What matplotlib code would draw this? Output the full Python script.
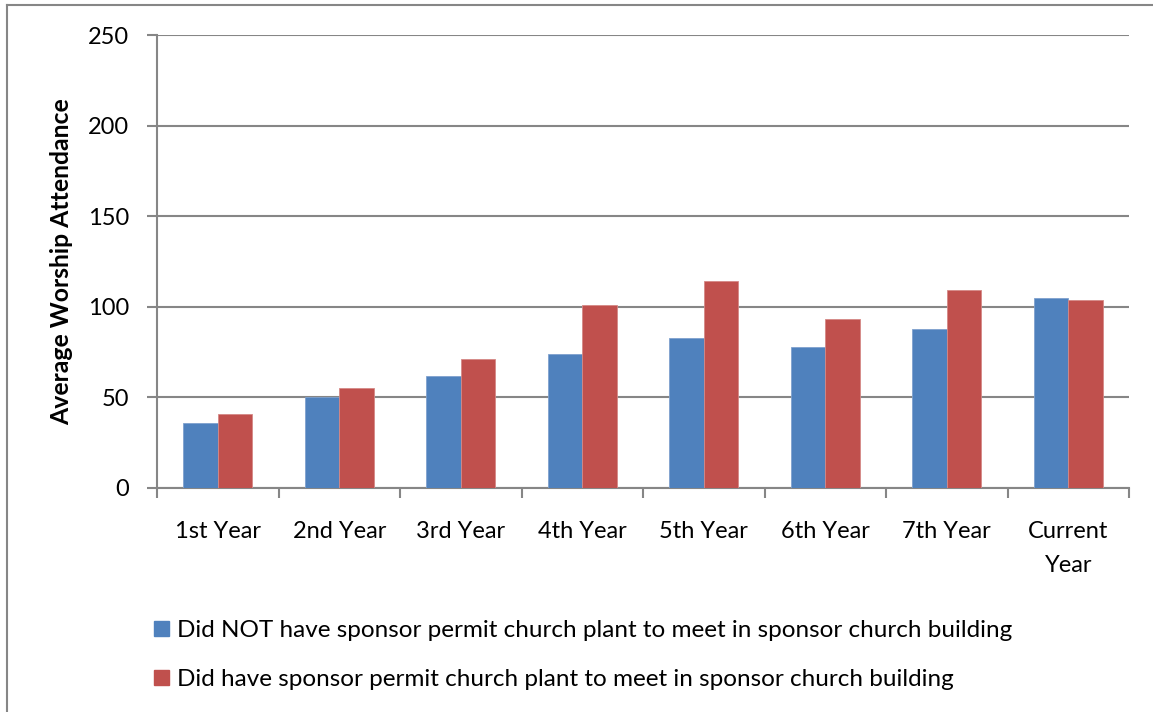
import matplotlib
matplotlib.use("Agg")
import matplotlib.pyplot as plt
import numpy as np
from matplotlib.patches import Patch
from matplotlib.lines import Line2D

plt.rcParams['font.family'] = ['Lato', 'DejaVu Sans']

categories = ["1st Year", "2nd Year", "3rd Year", "4th Year", "5th Year",
              "6th Year", "7th Year", "Current\nYear"]
not_in_sponsor = [36, 50, 62, 74, 83, 78, 88, 105]
in_sponsor = [41, 55, 71, 101, 114, 93, 109, 104]
series_labels = [
    "Did NOT have sponsor permit church plant to meet in sponsor church building",
    "Did have sponsor permit church plant to meet in sponsor church building",
]
y_ticks = [0, 50, 100, 150, 200, 250]

blue = "#4F81BD"
red = "#C0504D"
grey = "#868686"

W, H = 1153, 712
fig = plt.figure(figsize=(W / 100, H / 100), dpi=100)
ax = fig.add_axes([157 / W, 1 - 488 / H, (1129 - 157) / W, (488 - 35) / H])

x = np.arange(len(categories))
bw = 0.285
ax.bar(x - bw / 2, not_in_sponsor, bw, color=blue, edgecolor="#7FA1CE",
       linewidth=0.6, zorder=3)
ax.bar(x + bw / 2, in_sponsor, bw, color=red, edgecolor="#D58986",
       linewidth=0.6, zorder=3)

ax.set_xlim(-0.5, len(categories) - 0.5)
ax.set_ylim(0, 250)
ax.set_yticks(y_ticks)
ax.yaxis.grid(True, color=grey, linewidth=1.5, zorder=0)
ax.set_axisbelow(True)

ax.set_xticks(x)
ax.set_xticklabels(categories, fontsize=17, linespacing=1.76)
ax.set_xticks(np.arange(-0.5, len(categories)), minor=True)
ax.tick_params(axis="x", which="major", length=0, pad=24)
ax.tick_params(axis="x", which="minor", length=7, width=1.5, color=grey)
ax.tick_params(axis="y", length=7, width=1.5, color=grey, labelsize=17, pad=13)

for side in ("top", "right"):
    ax.spines[side].set_visible(False)
for side in ("left", "bottom"):
    ax.spines[side].set_color(grey)
    ax.spines[side].set_linewidth(1.5)

ax.set_ylabel("Average Worship Attendance", fontsize=17.8, fontweight="bold",
              labelpad=11)

handles = [Patch(facecolor=blue, edgecolor=blue), Patch(facecolor=red, edgecolor=red)]
fig.legend(handles, series_labels, loc="upper left",
           bbox_to_anchor=(154 / W, 1 - 620 / H), frameon=False, fontsize=17.5,
           borderaxespad=0, borderpad=0,
           handlelength=0.62, handleheight=0.62, handletextpad=0.33,
           labelspacing=1.15)

# Outer frame of the chart area
fig.add_artist(Line2D([7 / W, 1.0], [1 - 5 / H, 1 - 5 / H], color=grey,
                      linewidth=1.5, transform=fig.transFigure))
fig.add_artist(Line2D([7 / W, 7 / W], [0.0, 1 - 5 / H], color=grey,
                      linewidth=1.5, transform=fig.transFigure))

fig.savefig("out.png", dpi=100)
